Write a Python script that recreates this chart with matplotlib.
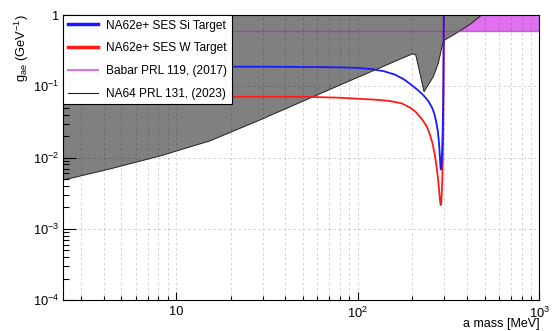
import matplotlib
matplotlib.use("Agg")
import matplotlib.pyplot as plt
from matplotlib.lines import Line2D
from matplotlib.ticker import LogLocator, FixedLocator, NullFormatter, FixedFormatter

plt.rcParams['font.family'] = ['Liberation Sans', 'DejaVu Sans']
plt.rcParams['mathtext.fontset'] = 'custom'
plt.rcParams['mathtext.rm'] = 'Liberation Sans'
plt.rcParams['mathtext.it'] = 'Liberation Sans:italic'

# ---------------- data ----------------
# NA64 PRL 131 (2023) excluded-region lower boundary
na64_mass = [2.3, 2.4, 4.33, 8.17, 15.4, 29.0, 80.0, 201, 209, 232, 261, 278, 286, 294, 302, 336, 366, 424, 481, 520]
na64_g = [4.75e-3, 4.83e-3, 6.9e-3, 1.05e-2, 1.71e-2, 3.36e-2, 0.104, 0.286, 0.275, 0.0838, 0.136, 0.21, 0.29, 0.40, 0.446, 0.524, 0.60, 0.765, 1.0, 1.3]

# Babar PRL 119 (2017)
babar_mass = [2.3, 1000]
babar_g = [0.6, 0.6]
babar_top = [1.0, 1.0]

# NA62e+ SES Si target
si_mass = [2.3, 30, 60, 80, 100, 120, 140, 160, 180, 200, 215, 230, 245, 255, 263, 270, 276, 280, 283, 285, 286.5, 288, 290, 292, 294, 295.5, 296.5, 297.3, 298]
si_g = [0.188, 0.188, 0.186, 0.184, 0.181, 0.174, 0.162, 0.146, 0.125, 0.102, 0.088, 0.075, 0.062, 0.052, 0.043, 0.033, 0.024, 0.017, 0.0115, 0.0085, 0.0068, 0.0068, 0.0085, 0.013, 0.024, 0.05, 0.12, 0.35, 1.2]

# NA62e+ SES W target
w_mass = [2.3, 50, 80, 100, 125, 150, 175, 195, 210, 225, 240, 250, 258, 265, 270, 275, 279, 282, 284.5, 286.5, 288.5, 290.5, 292.5, 294, 295.5, 296.5, 297.5, 298.5]
w_g = [0.0713, 0.0713, 0.069, 0.0668, 0.0648, 0.0622, 0.0575, 0.050, 0.043, 0.035, 0.0275, 0.021, 0.016, 0.0115, 0.0085, 0.0060, 0.0042, 0.0031, 0.0024, 0.00215, 0.0023, 0.0031, 0.0048, 0.0085, 0.017, 0.04, 0.16, 1.2]

legend_labels = ["NA62e+ SES Si Target", "NA62e+ SES W Target", "Babar PRL 119, (2017)", "NA64 PRL 131, (2023)"]

xmin, xmax = 2.4, 1000
ymin, ymax = 1e-4, 1

# ---------------- figure ----------------
fig = plt.figure(figsize=(5.56, 3.31), dpi=100)
ax = fig.add_axes([63.3/556, 1-300/331, (539.3-63.3)/556, (300-15)/331])
ax.set_xscale('log')
ax.set_yscale('log')
ax.set_xlim(xmin, xmax)
ax.set_ylim(ymin, ymax)

ax.fill_between(babar_mass, babar_g, babar_top, color='#e070f0', lw=0, zorder=1.0)
ax.fill_between(na64_mass, na64_g, [10]*len(na64_mass), facecolor='#808080', edgecolor='none', lw=0, zorder=1.5)
ax.plot(na64_mass, na64_g, color='#202020', lw=0.7, zorder=1.6)
ax.plot(babar_mass, babar_g, color='#9040a0', lw=1.0, alpha=0.75, zorder=1.7)

ax.plot(w_mass, w_g, color='#ff1a1a', lw=1.3, zorder=3)
ax.plot(si_mass, si_g, color='#1a1aff', lw=1.3, zorder=3.1)

ax.set_axisbelow(False)
ax.xaxis.set_major_locator(FixedLocator([10, 100, 1000]))
ax.xaxis.set_major_formatter(FixedFormatter(['10', r'$10^{2}$', r'$10^{3}$']))
ax.xaxis.set_minor_locator(LogLocator(base=10, subs=range(2, 10), numticks=20))
ax.xaxis.set_minor_formatter(NullFormatter())
ax.yaxis.set_major_locator(FixedLocator([1e-4, 1e-3, 1e-2, 1e-1, 1]))
ax.yaxis.set_major_formatter(FixedFormatter([r'$10^{-4}$', r'$10^{-3}$', r'$10^{-2}$', r'$10^{-1}$', '1']))
ax.yaxis.set_minor_locator(LogLocator(base=10, subs=range(2, 10), numticks=20))
ax.yaxis.set_minor_formatter(NullFormatter())

ax.tick_params(axis='both', which='both', direction='in', labelsize=9.3, width=0.8, top=False, right=False)
ax.tick_params(axis='y', which='major', length=9)
ax.tick_params(axis='y', which='minor', length=4.5)
ax.tick_params(axis='x', which='major', length=6)
ax.tick_params(axis='x', which='minor', length=3)
ax.tick_params(axis='x', pad=4)
ax.tick_params(axis='y', pad=3)

ax.grid(True, which='both', axis='x', color='black', alpha=0.2, lw=0.6, ls=(0, (3, 3)))
ax.grid(True, which='major', axis='y', color='black', alpha=0.2, lw=0.6, ls=(0, (3, 3)))

for s in ax.spines.values():
    s.set_linewidth(0.8)
    s.set_zorder(6)

fig.text(539.5/556, 1-330.5/331, 'a mass [MeV]', fontsize=9, ha='right', va='bottom')
fig.text(22/556, 1-14/331, r'$\mathregular{g_{ae}}$ (GeV$^{-1}$)', fontsize=9.3,
         rotation=90, ha='center', va='top')

handles = [Line2D([], [], color='#1a1aff', lw=2.5),
           Line2D([], [], color='#ff1a1a', lw=2.5),
           Line2D([], [], color='#e070f0', lw=1.5),
           Line2D([], [], color='#202020', lw=0.8)]
leg = ax.legend(handles, legend_labels, loc='upper left', bbox_to_anchor=(0, 1),
                borderaxespad=0, fontsize=8.6, frameon=True, fancybox=False,
                edgecolor='black', framealpha=1, borderpad=0.38, labelspacing=0.9,
                handlelength=2.55, handletextpad=0.65)
leg.get_frame().set_linewidth(0.8)
leg.set_zorder(10)

fig.savefig('out.png', dpi=100)
